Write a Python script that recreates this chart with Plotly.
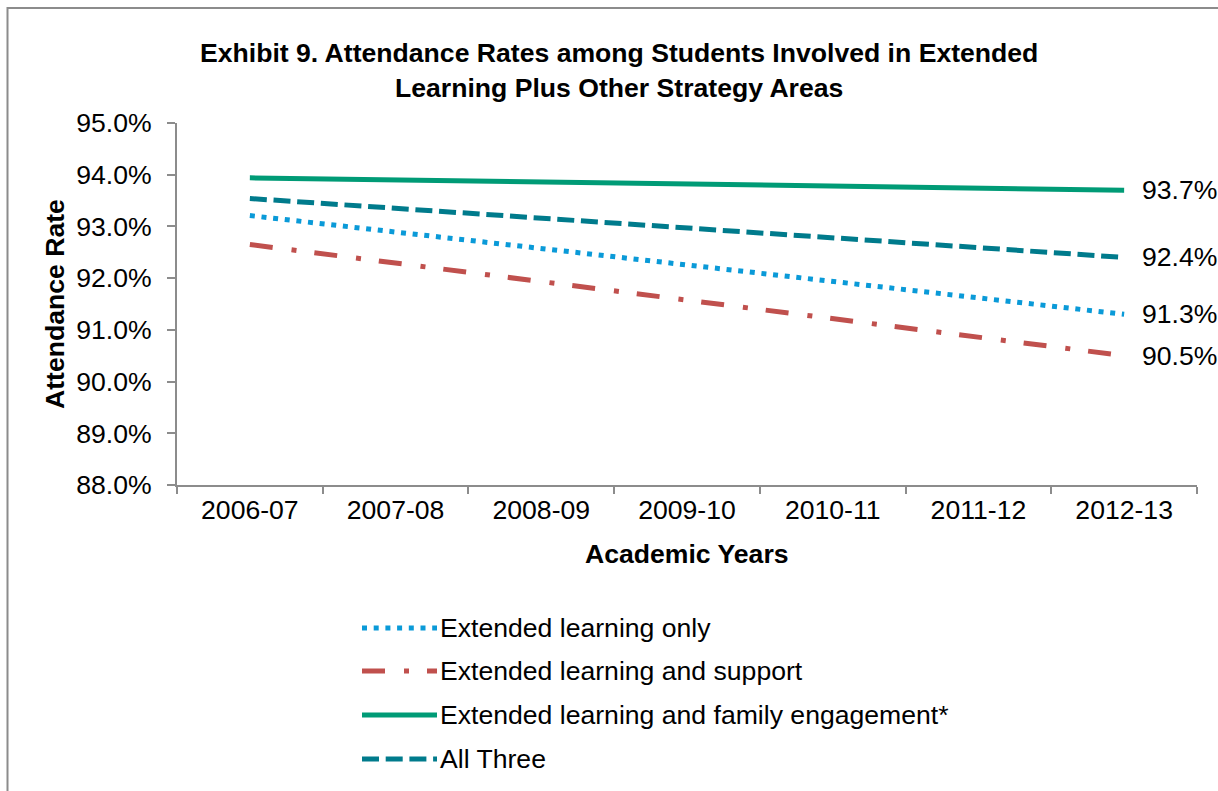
import plotly.graph_objects as go

# Academic years on the x axis
years = ["2006-07", "2007-08", "2008-09", "2009-10", "2010-11", "2011-12", "2012-13"]

# Attendance rate (%) by group
extended_only = [93.21, 92.89, 92.58, 92.26, 91.94, 91.62, 91.30]
extended_support = [92.65, 92.29, 91.93, 91.58, 91.22, 90.86, 90.50]
extended_family = [93.94, 93.90, 93.86, 93.82, 93.78, 93.74, 93.70]
all_three = [93.54, 93.35, 93.16, 92.97, 92.78, 92.59, 92.40]

series_names = [
    "Extended learning only",
    "Extended learning and support",
    "Extended learning and family engagement*",
    "All Three",
]

FONT = "Arial, 'Liberation Sans', sans-serif"
FS = 26.6
AXIS_GREY = "#8c8c8c"

styles = [
    dict(color="#0A9AD8", dash="5px,6.7px"),
    dict(color="#C0504D", dash="23px,19px,5px,18px"),
    dict(color="#009B76", dash="solid"),
    dict(color="#007B8C", dash="17px,6.7px"),
]
series_values = [extended_only, extended_support, extended_family, all_three]

# figure / plot-area geometry (pixels)
W, H = 1218, 791
L, R, T, B = 177, 1197, 123, 485


def px_x(px):
    return (px - L) / (R - L)


def px_y(py):
    return (B - py) / (B - T)


fig = go.Figure()

for name, vals, st in zip(series_names, series_values, styles):
    fig.add_trace(
        go.Scatter(
            x=years,
            y=vals,
            mode="lines",
            name=name,
            line=dict(color=st["color"], width=5, dash=st["dash"]),
            showlegend=False,
        )
    )
    # end-of-line value label
    fig.add_annotation(
        x=years[-1],
        y=vals[-1],
        xref="x",
        yref="y",
        text=f"{vals[-1]:.1f}%",
        showarrow=False,
        xanchor="left",
        yanchor="middle",
        xshift=16,
        font=dict(family=FONT, size=FS, color="#000000"),
    )

# legend drawn below the plot: key line + label per series
legend_rows = [628, 671, 715, 759]
for name, st, ry in zip(series_names, styles, legend_rows):
    fig.add_shape(
        type="line",
        xref="paper",
        yref="paper",
        x0=px_x(362),
        x1=px_x(437),
        y0=px_y(ry),
        y1=px_y(ry),
        line=dict(color=st["color"], width=5, dash=st["dash"]),
    )
    fig.add_annotation(
        xref="paper",
        yref="paper",
        x=px_x(438),
        y=px_y(ry),
        text=name,
        showarrow=False,
        xanchor="left",
        yanchor="middle",
        font=dict(family=FONT, size=FS, color="#000000"),
    )

# y axis title
fig.add_annotation(
    xref="paper",
    yref="paper",
    x=px_x(55),
    y=0.5,
    text="<b>Attendance Rate</b>",
    textangle=-90,
    showarrow=False,
    xanchor="center",
    yanchor="middle",
    font=dict(family=FONT, size=FS, color="#000000"),
)

# x axis title
fig.add_annotation(
    xref="paper",
    yref="paper",
    x=0.5,
    y=px_y(554),
    text="<b>Academic Years</b>",
    showarrow=False,
    xanchor="center",
    yanchor="middle",
    font=dict(family=FONT, size=FS, color="#000000"),
)

# chart title
fig.add_annotation(
    xref="paper",
    yref="paper",
    x=px_x(619),
    y=px_y(70),
    text="<b>Exhibit 9. Attendance Rates among Students Involved in Extended<br>Learning Plus Other Strategy Areas</b>",
    showarrow=False,
    xanchor="center",
    yanchor="middle",
    align="center",
    font=dict(family=FONT, size=FS, color="#000000"),
)

# outer chart border
fig.add_shape(
    type="rect",
    xref="paper",
    yref="paper",
    x0=px_x(7.5),
    x1=px_x(1240),
    y0=px_y(820),
    y1=px_y(8),
    line=dict(color=AXIS_GREY, width=2),
    fillcolor="rgba(0,0,0,0)",
    layer="below",
)

fig.update_layout(
    width=W,
    height=H,
    margin=dict(l=L, r=W - R, t=T, b=H - B, pad=0),
    paper_bgcolor="white",
    plot_bgcolor="white",
    font=dict(family=FONT, size=FS, color="#000000"),
    showlegend=False,
)

fig.update_xaxes(
    type="category",
    range=[-0.5, 6.5],
    showline=True,
    linecolor=AXIS_GREY,
    linewidth=2,
    ticks="outside",
    ticklen=7,
    tickwidth=2,
    tickcolor=AXIS_GREY,
    tickson="boundaries",
    showgrid=False,
    zeroline=False,
    tickfont=dict(family=FONT, size=FS, color="#000000"),
)

fig.update_yaxes(
    range=[88, 95],
    dtick=1,
    tick0=88,
    tickformat=".1f",
    ticksuffix="%",
    showline=True,
    linecolor=AXIS_GREY,
    linewidth=2,
    ticks="outside",
    ticklen=8,
    tickwidth=2,
    tickcolor=AXIS_GREY,
    showgrid=False,
    zeroline=False,
    ticklabelstandoff=10,
    tickfont=dict(family=FONT, size=FS, color="#000000"),
)

fig.write_html("out.html")
